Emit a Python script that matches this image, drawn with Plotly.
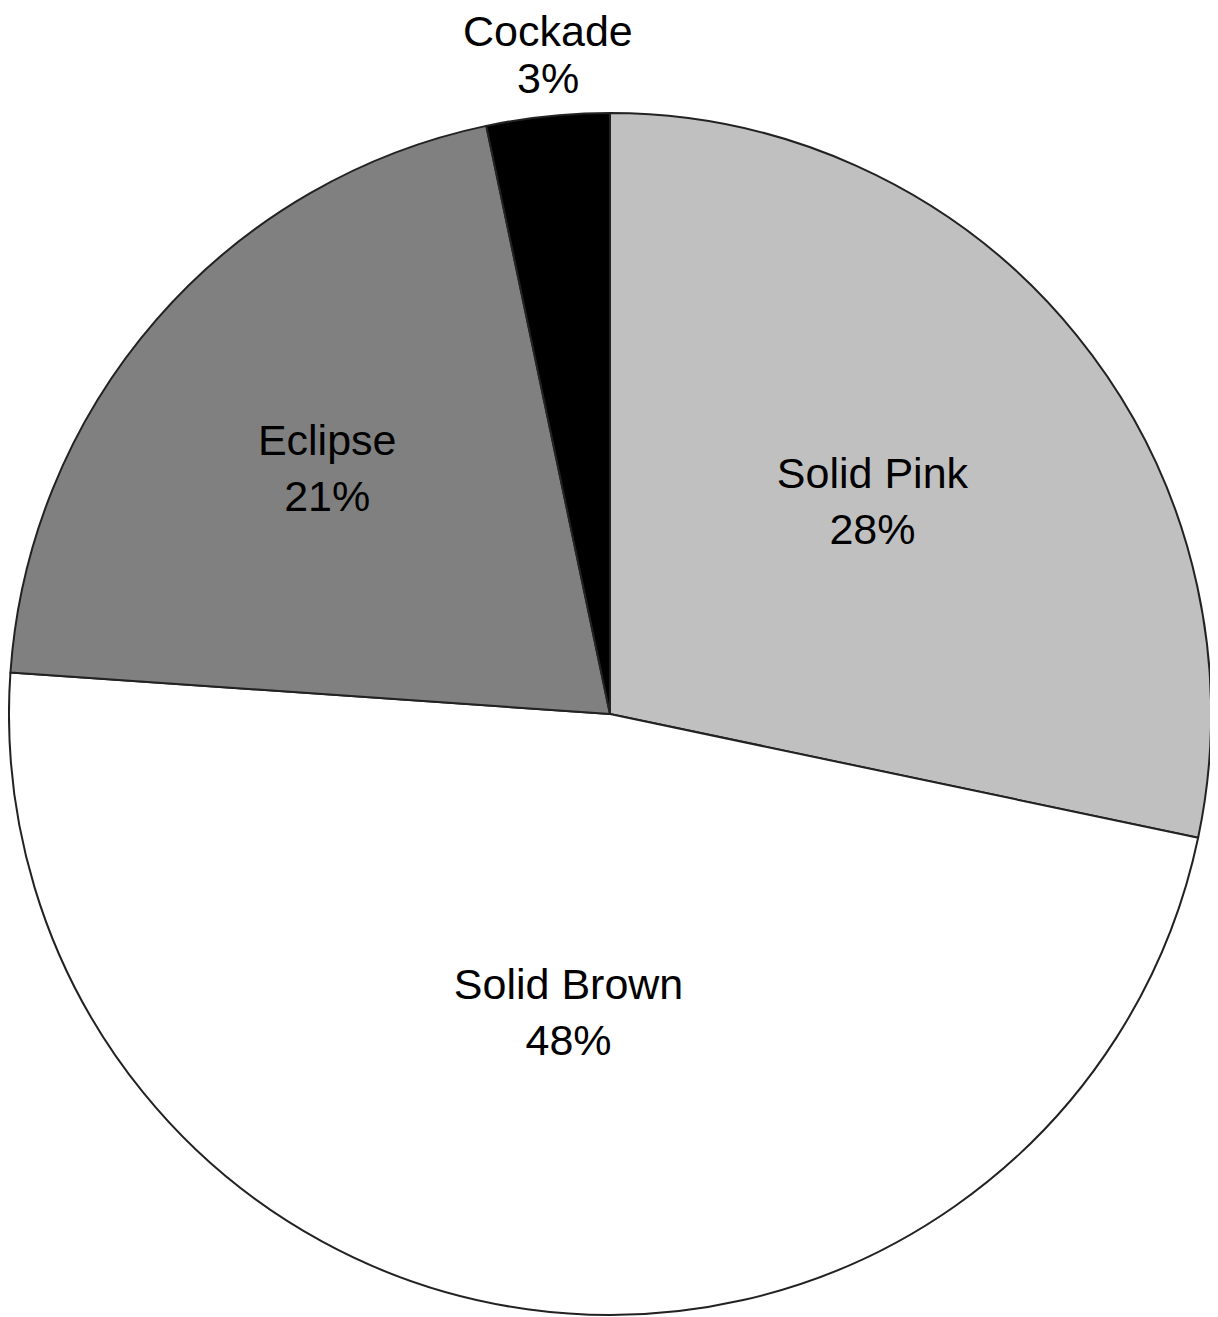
import math
import plotly.graph_objects as go

labels = ["Solid Pink", "Solid Brown", "Eclipse", "Cockade"]
values = [28.3, 47.8, 20.6, 3.3]
colors = ["#c0c0c0", "#ffffff", "#808080", "#000000"]

FONT = dict(family="Liberation Sans, Arial, sans-serif", size=43, color="#000000")

total = sum(values)
# Small slices get their label placed outside via annotations, others inside
outside = [v / total < 0.05 for v in values]
texttemplates = ["" if o else "%{label}<br>%{percent:.0%}" for o in outside]

fig = go.Figure(go.Pie(
    labels=labels,
    values=values,
    sort=False,
    direction="clockwise",
    rotation=0,
    marker=dict(colors=colors, line=dict(color="#222222", width=2)),
    texttemplate=texttemplates,
    textposition="inside",
    insidetextorientation="horizontal",
    textfont=FONT,
    showlegend=False,
    hoverinfo="label+percent",
))

# Outside labels centred above their slice (mid-angle of the slice)
cum = 0.0
for lab, v, o in zip(labels, values, outside):
    frac = v / total
    mid = cum + frac / 2
    cum += frac
    if not o:
        continue
    theta = 2 * math.pi * mid
    x = 0.5 + 0.5 * math.sin(theta)
    y = 0.5 + 0.5 * math.cos(theta)
    for line, shift in ((f"{round(frac * 100)}%", 13), (lab, 60)):
        fig.add_annotation(
            x=x, y=y, xref="paper", yref="paper",
            text=line, showarrow=False,
            xanchor="center", yanchor="bottom",
            yshift=shift, font=FONT, borderpad=0,
        )

fig.update_layout(
    width=1210,
    height=1309,
    margin=dict(l=1, r=7, t=105, b=2),
    paper_bgcolor="white",
    plot_bgcolor="white",
)

fig.write_html("out.html")
